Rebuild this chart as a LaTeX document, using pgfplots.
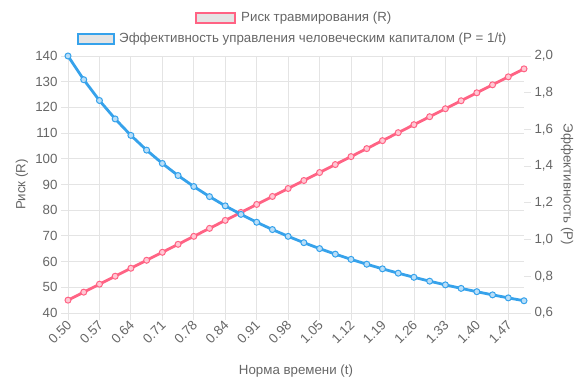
\documentclass[border=0pt]{standalone}
\usepackage{fontspec}
\setmainfont{Liberation Sans}
\usepackage{pgfplots}
\pgfplotsset{compat=1.18}
\definecolor{cred}{RGB}{255,99,132}
\definecolor{cblue}{RGB}{54,162,235}
\definecolor{ctext}{RGB}{102,102,102}
\definecolor{cgrid}{RGB}{228,228,228}
\definecolor{cbox}{RGB}{228,228,228}
\pgfplotstableread{
i R P
0 45.000 2.00000
1 48.103 1.87097
2 51.207 1.75758
3 54.310 1.65714
4 57.414 1.56757
5 60.517 1.48718
6 63.621 1.41463
7 66.724 1.34884
8 69.828 1.28889
9 72.931 1.23404
10 76.034 1.18367
11 79.138 1.13725
12 82.241 1.09434
13 85.345 1.05455
14 88.448 1.01754
15 91.552 0.98305
16 94.655 0.95082
17 97.759 0.92063
18 100.862 0.89231
19 103.966 0.86567
20 107.069 0.84058
21 110.172 0.81690
22 113.276 0.79452
23 116.379 0.77333
24 119.483 0.75325
25 122.586 0.73418
26 125.690 0.71605
27 128.793 0.69880
28 131.897 0.68235
29 135.000 0.66667
}\datatable
\newcommand{\fs}{\fontsize{13.3bp}{15bp}\selectfont}
\begin{document}
\begin{tikzpicture}
\path[use as bounding box] (0,0) rectangle (584bp,385bp);
\begin{axis}[
  at={(68bp,72bp)}, anchor=south west,
  scale only axis, width=456bp, height=257bp,
  xmin=0, xmax=29, ymin=40, ymax=140,
  xtick={0,2,...,28},
  xticklabels={0.50,0.57,0.64,0.71,0.78,0.84,0.91,0.98,1.05,1.12,1.19,1.26,1.33,1.40,1.47},
  ytick={40,50,...,140},
  axis line style={draw=none},
  grid=major, major grid style={cgrid, line width=0.8bp},
  tick align=outside, major tick length=7bp,
  tick style={cgrid, line width=0.8bp},
  xtick pos=bottom, ytick pos=left,
  /pgf/number format/assume math mode=true,
  ticklabel style={font=\fs, text=ctext},
  xticklabel style={rotate=45, anchor=east, xshift=2bp, yshift=-3bp},
  xlabel={Норма времени (t)},
  xlabel style={font=\fs, text=ctext, at={(axis description cs:0.5,0)}, anchor=center, yshift=-58bp},
  ylabel={Риск (R)},
  ylabel style={font=\fs, text=ctext, at={(axis description cs:0,0.5)}, anchor=center, yshift=46bp},
]
\addplot[cred, line width=2.8bp, mark=*, mark size=3bp, mark options={fill=cred!35, draw=cred, line width=1bp}] table[x=i, y=R] {\datatable};
\end{axis}
\begin{axis}[
  at={(68bp,72bp)}, anchor=south west,
  scale only axis, width=456bp, height=257bp,
  xmin=0, xmax=29, ymin=0.6, ymax=2.0,
  hide x axis,
  axis y line*=right,
  axis line style={draw=none},
  ytick={0.6,0.8,...,2.01},
  yticklabel style={/pgf/number format/.cd, fixed, fixed zerofill, precision=1, use comma},
  tick align=outside, major tick length=7bp,
  tick style={cgrid, line width=0.8bp},
  /pgf/number format/assume math mode=true,
  ticklabel style={font=\fs, text=ctext},
  ylabel={Эффективность (P)},
  ylabel style={font=\fs, text=ctext, at={(axis description cs:1,0.5)}, anchor=center, yshift=-43bp, rotate=180},
]
\addplot[cblue, line width=2.8bp, mark=*, mark size=3bp, mark options={fill=cblue!35, draw=cblue, line width=1bp}] table[x=i, y=P] {\datatable};
\end{axis}
% legend
\draw[cred, line width=2bp, fill=cbox] (196bp,362bp) rectangle (235bp,372bp);
\node[anchor=west, font=\fs, text=ctext, inner sep=0pt] at (241bp,367bp) {Риск травмирования (R)};
\draw[cblue, line width=2bp, fill=cbox] (78bp,341bp) rectangle (114bp,351bp);
\node[anchor=west, font=\fs, text=ctext, inner sep=0pt] at (119bp,346bp) {Эффективность управления человеческим капиталом (P = 1/t)};
\end{tikzpicture}
\end{document}
